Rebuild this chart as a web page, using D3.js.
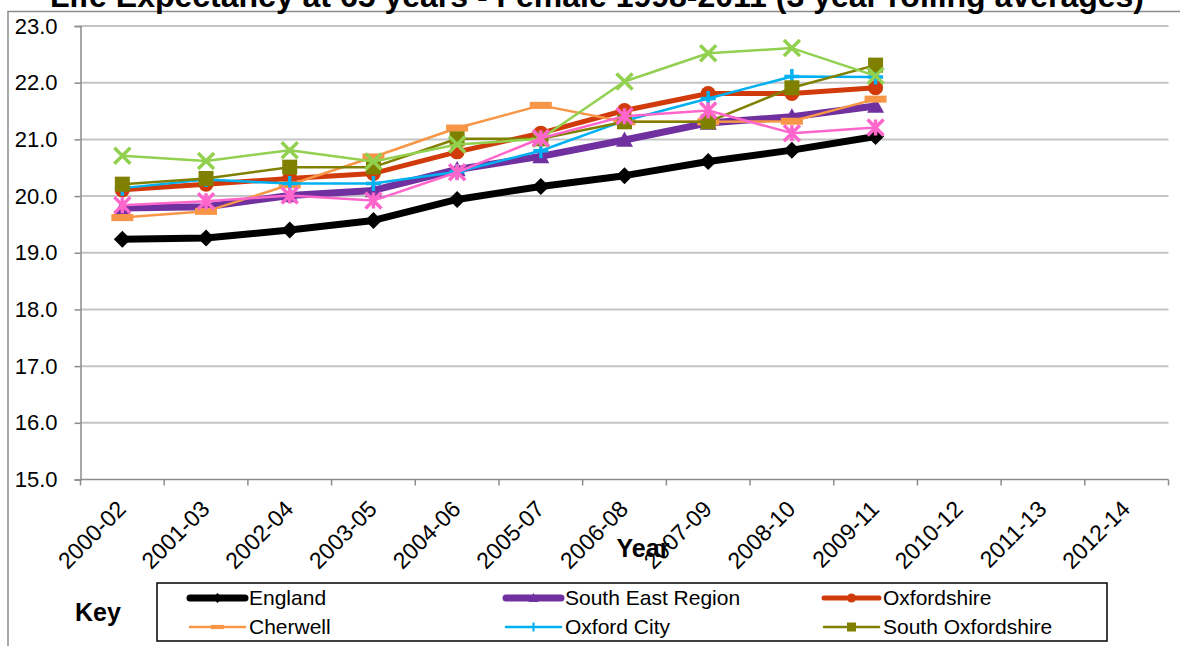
<!DOCTYPE html>
<html>
<head>
<meta charset="utf-8">
<script src="https://cdn.jsdelivr.net/npm/d3@7"></script>
<style>
  body { margin: 0; background: #fff; }
  text { font-family: "Liberation Sans", Arial, sans-serif; }
</style>
</head>
<body>
<svg id="chart" width="1180" height="646"></svg>
<script>
// Three-year rolling periods on the x axis
const periods = ["2000-02", "2001-03", "2002-04", "2003-05", "2004-06", "2005-07",
                 "2006-08", "2007-09", "2008-10", "2009-11", "2010-12", "2011-13", "2012-14"];

// Life expectancy at 65, females (years)
const england          = [19.24, 19.26, 19.40, 19.57, 19.94, 20.17, 20.36, 20.61, 20.81, 21.05];
const southEastRegion  = [19.79, 19.81, 20.01, 20.10, 20.47, 20.70, 20.99, 21.29, 21.40, 21.59];
const oxfordshire      = [20.11, 20.21, 20.31, 20.40, 20.78, 21.11, 21.51, 21.81, 21.81, 21.91];
const cherwell         = [19.62, 19.73, 20.20, 20.69, 21.20, 21.60, 21.31, 21.31, 21.32, 21.71];
const oxfordCity       = [20.14, 20.29, 20.22, 20.22, 20.43, 20.80, 21.33, 21.72, 22.11, 22.10];
const southOxfordshire = [20.21, 20.31, 20.51, 20.51, 21.01, 21.01, 21.31, 21.31, 21.91, 22.31];
const valeOfWhiteHorse = [20.71, 20.62, 20.81, 20.61, 20.91, 21.01, 22.02, 22.52, 22.61, 22.12];
const westOxfordshire  = [19.84, 19.91, 20.01, 19.92, 20.42, 21.02, 21.41, 21.51, 21.11, 21.21];

const yTicks = [15, 16, 17, 18, 19, 20, 21, 22, 23];

const series = [
  { name: "England",            values: england,          color: "#000000", width: 7,   marker: "diamond",  size: 8.5 },
  { name: "South East Region",  values: southEastRegion,  color: "#7030A0", width: 7,   marker: "triangle", size: 8.5 },
  { name: "Oxfordshire",        values: oxfordshire,      color: "#D13A0A", width: 5,   marker: "circle",   size: 7.5 },
  { name: "Cherwell",           values: cherwell,         color: "#F79646", width: 2.5, marker: "dash",     size: 11 },
  { name: "Oxford City",        values: oxfordCity,       color: "#00B0F0", width: 2.5, marker: "plus",     size: 7.5 },
  { name: "South Oxfordshire",  values: southOxfordshire, color: "#808000", width: 2.5, marker: "square",   size: 7.5 },
  { name: "Vale of White Horse",values: valeOfWhiteHorse, color: "#92D050", width: 2.5, marker: "cross",    size: 8 },
  { name: "West Oxfordshire",   values: westOxfordshire,  color: "#FF66CC", width: 2.5, marker: "asterisk", size: 8 }
];
const legendSeries = series.slice(0, 6);

const svg = d3.select("#chart");
const plot = { left: 80.5, right: 1168.5, top: 26, bottom: 479.5 };

const x = d3.scaleBand().domain(periods).range([plot.left, plot.right]).padding(0);
const y = d3.scaleLinear().domain([15, 23]).range([plot.bottom, plot.top]);
const cx = p => x(p) + x.bandwidth() / 2;

// Outer frame (top and left edges)
svg.append("path")
  .attr("d", "M8,646 L8,11.5 L1180,11.5")
  .attr("fill", "none").attr("stroke", "#8c8c8c").attr("stroke-width", 1.5);

// Title
svg.append("text")
  .attr("x", 597).attr("y", 7)
  .attr("text-anchor", "middle")
  .attr("font-size", 32).attr("font-weight", "bold")
  .text("Life Expectancy at 65 years - Female 1998-2011 (3 year rolling averages)");

// Horizontal gridlines
svg.append("g")
  .selectAll("line")
  .data(yTicks.filter(v => v > 15))
  .join("line")
  .attr("x1", plot.left).attr("x2", plot.right)
  .attr("y1", d => y(d)).attr("y2", d => y(d))
  .attr("stroke", "#c4c4c4").attr("stroke-width", 2);

// Y axis
const yAxis = svg.append("g")
  .attr("transform", `translate(${plot.left},0)`)
  .call(d3.axisLeft(y).tickValues(yTicks).tickFormat(d3.format(".1f")).tickSize(6).tickPadding(17));
yAxis.select(".domain").attr("stroke", "#8c8c8c").attr("stroke-width", 1.5);
yAxis.selectAll(".tick line").attr("stroke", "#8c8c8c").attr("stroke-width", 1.5);
yAxis.selectAll(".tick text").attr("font-size", 22).attr("fill", "#000")
  .attr("font-family", "'Liberation Sans', Arial, sans-serif");

// X axis: ticks sit on category boundaries
const xAxisG = svg.append("g").attr("transform", `translate(0,${plot.bottom})`);
xAxisG.append("line")
  .attr("x1", plot.left).attr("x2", plot.right)
  .attr("stroke", "#8c8c8c").attr("stroke-width", 1.5);
xAxisG.selectAll("line.tk")
  .data(periods.concat(["_end"]))
  .join("line").attr("class", "tk")
  .attr("x1", (d, i) => plot.left + i * x.bandwidth())
  .attr("x2", (d, i) => plot.left + i * x.bandwidth())
  .attr("y1", 0).attr("y2", 6)
  .attr("stroke", "#8c8c8c").attr("stroke-width", 1.5);
xAxisG.selectAll("text")
  .data(periods)
  .join("text")
  .attr("transform", d => `translate(${cx(d) + 5},${31}) rotate(-45)`)
  .attr("text-anchor", "end")
  .attr("font-size", 23)
  .text(d => d);

// Axis title
svg.append("text")
  .attr("x", 643).attr("y", 557)
  .attr("text-anchor", "middle")
  .attr("font-size", 25).attr("font-weight", "bold")
  .text("Year");

// Marker shapes
function markerPath(type, s) {
  switch (type) {
    case "diamond":  return `M0,${-s}L${s},0L0,${s}L${-s},0Z`;
    case "triangle": return `M0,${-s}L${s},${s * 0.8}L${-s},${s * 0.8}Z`;
    case "circle":   return d3.symbol(d3.symbolCircle, Math.PI * s * s)();
    case "square":   return `M${-s},${-s}H${s}V${s}H${-s}Z`;
    case "dash":     return `M${-s},${-s * 0.32}H${s}V${s * 0.32}H${-s}Z`;
    case "plus":     return `M${-s},0H${s}M0,${-s}V${s}`;
    case "cross":    return `M${-s},${-s}L${s},${s}M${-s},${s}L${s},${-s}`;
    case "asterisk": return `M${-s},${-s}L${s},${s}M${-s},${s}L${s},${-s}M0,${-s}V${s}`;
  }
}
const stroked = t => t === "plus" || t === "cross" || t === "asterisk";

function drawMarker(g, s, px, py, scale) {
  const k = scale || 1;
  g.append("path")
    .attr("transform", `translate(${px},${py})`)
    .attr("d", markerPath(s.marker, s.size * k))
    .attr("fill", stroked(s.marker) ? "none" : s.color)
    .attr("stroke", s.color)
    .attr("stroke-width", stroked(s.marker) ? 3.5 * k : 0);
}

// Series lines and markers
const line = d3.line().x((d, i) => cx(periods[i])).y(d => y(d));
series.forEach(s => {
  const g = svg.append("g");
  g.append("path")
    .attr("d", line(s.values))
    .attr("fill", "none")
    .attr("stroke", s.color)
    .attr("stroke-width", s.width)
    .attr("stroke-linejoin", "round")
    .attr("stroke-linecap", "round");
  s.values.forEach((v, i) => drawMarker(g, s, cx(periods[i]), y(v)));
});

// Key
svg.append("text")
  .attr("x", 98).attr("y", 621)
  .attr("text-anchor", "middle")
  .attr("font-size", 25).attr("font-weight", "bold")
  .text("Key");

svg.append("rect")
  .attr("x", 157).attr("y", 583).attr("width", 950).attr("height", 58)
  .attr("fill", "#fff").attr("stroke", "#000").attr("stroke-width", 1.5);

const colX = [190, 506, 824];
const rowY = [598, 627];
legendSeries.forEach((s, i) => {
  const lx = colX[i % 3], ly = rowY[Math.floor(i / 3)];
  const g = svg.append("g");
  g.append("line")
    .attr("x1", lx).attr("x2", lx + 55).attr("y1", ly).attr("y2", ly)
    .attr("stroke", s.color).attr("stroke-width", s.width).attr("stroke-linecap", "round");
  drawMarker(g, s, lx + 27.5, ly, 0.6);
  g.append("text")
    .attr("x", lx + 59).attr("y", ly).attr("dy", "0.35em")
    .attr("font-size", 21)
    .text(s.name);
});
</script>
</body>
</html>
